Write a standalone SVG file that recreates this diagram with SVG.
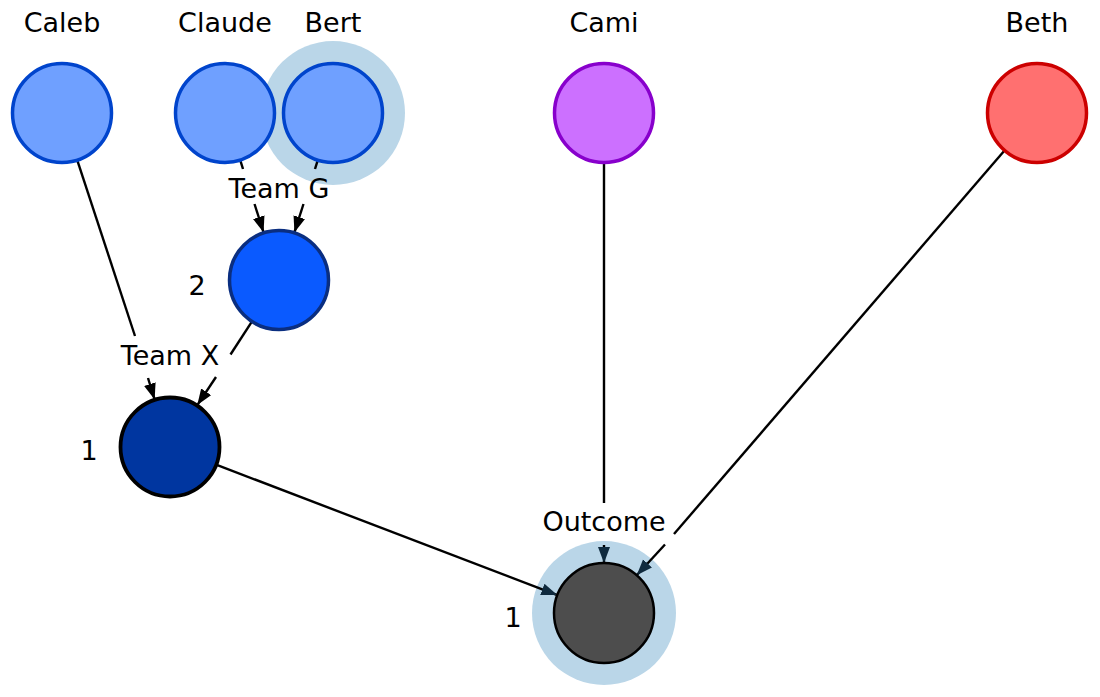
<svg xmlns="http://www.w3.org/2000/svg" width="1100" height="697" viewBox="0 0 1100 697">
<style>
text{font-family:"DejaVu Sans","Liberation Sans",sans-serif;font-size:27px;fill:#000;text-anchor:middle}
.e{stroke:#000;stroke-width:2.4;fill:none}
.halo{fill:#bad6e8}
.lt{fill:#6fa0ff;stroke:#0044cc;stroke-width:3.5}
</style>
<defs>
<marker id="ab" markerUnits="userSpaceOnUse" markerWidth="17" markerHeight="13" refX="16" refY="6.5" orient="auto" viewBox="0 0 17 13"><path d="M0,0.5 L16,6.5 L0,12.5 z" fill="#000"/></marker>
<marker id="an" markerUnits="userSpaceOnUse" markerWidth="17" markerHeight="13" refX="16" refY="6.5" orient="auto" viewBox="0 0 17 13"><path d="M0,0.5 L16,6.5 L0,12.5 z" fill="#0f2a3e"/></marker>
</defs>
<g id="halos">
<circle class="halo" cx="333" cy="113" r="72"/>
<circle class="halo" cx="604" cy="613" r="72"/>
</g>
<g id="connectors">
<line class="e" x1="240.4" y1="160.6" x2="243" y2="169"/>
<line class="e" x1="254.5" y1="204" x2="263.6" y2="232.4" marker-end="url(#ab)"/>
<line class="e" x1="317.6" y1="160.6" x2="315" y2="169"/>
<line class="e" x1="303.5" y1="204" x2="294.4" y2="232.4" marker-end="url(#ab)"/>
<line class="e" x1="77.4" y1="160.6" x2="135" y2="336"/>
<line class="e" x1="148" y1="378" x2="154.6" y2="399.4" marker-end="url(#ab)"/>
<line class="e" x1="251.7" y1="321.9" x2="230.5" y2="354.5"/>
<line class="e" x1="216" y1="377" x2="197.3" y2="405.1" marker-end="url(#ab)"/>
<line class="e" x1="216.7" y1="464.9" x2="557.3" y2="595.1" marker-end="url(#an)"/>
<line class="e" x1="604" y1="163" x2="604" y2="503"/>
<line class="e" x1="604" y1="545" x2="604" y2="563" marker-end="url(#an)"/>
<line class="e" x1="1004.3" y1="150.8" x2="674" y2="534"/>
<line class="e" x1="665" y1="544.5" x2="636.7" y2="575.2" marker-end="url(#an)"/>
</g>
<g id="caleb"><circle class="lt" cx="62" cy="113" r="49.5"/><text x="62" y="32">Caleb</text></g>
<g id="claude"><circle class="lt" cx="225" cy="113" r="49.5"/><text x="225" y="32">Claude</text></g>
<g id="bert"><circle class="lt" cx="333" cy="113" r="49.5"/><text x="333" y="32">Bert</text></g>
<g id="cami"><circle cx="604" cy="113" r="49.5" fill="#cc70ff" stroke="#8800cc" stroke-width="3.5"/><text x="604" y="32">Cami</text></g>
<g id="beth"><circle cx="1037" cy="113" r="49.5" fill="#ff7070" stroke="#cc0000" stroke-width="3.5"/><text x="1037" y="32">Beth</text></g>
<g id="teamg"><circle cx="279" cy="280" r="49.5" fill="#0a5aff" stroke="#0a2e80" stroke-width="3.5"/><text x="279" y="198">Team G</text><text x="197" y="295">2</text></g>
<g id="teamx"><circle cx="170" cy="447" r="49.5" fill="#0036a0" stroke="#000" stroke-width="3.8"/><text x="170" y="365">Team X</text><text x="89" y="460">1</text></g>
<g id="outcome"><circle cx="604" cy="613" r="50" fill="#4d4d4d" stroke="#000" stroke-width="2.5"/><text x="604" y="531">Outcome</text><text x="513" y="627">1</text></g>
</svg>
